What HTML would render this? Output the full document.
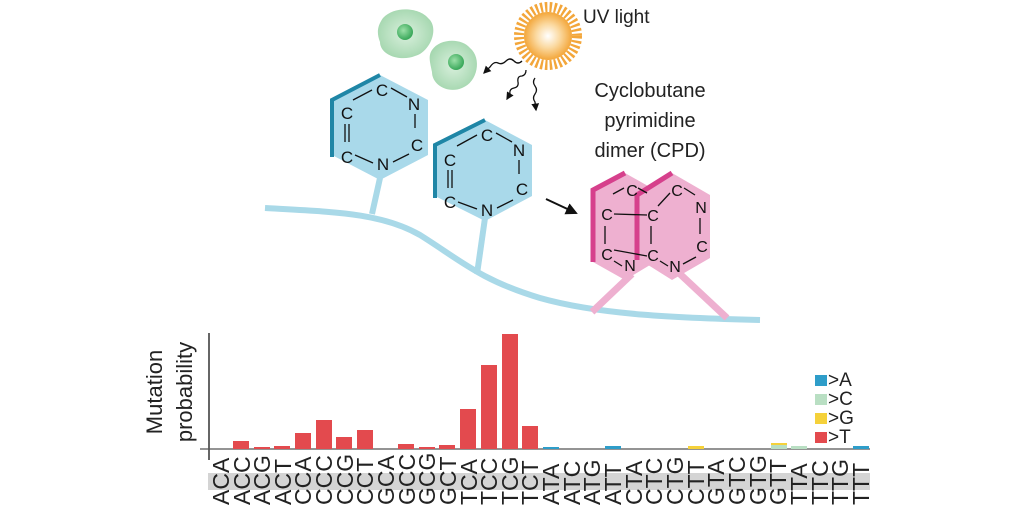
<!DOCTYPE html>
<html><head><meta charset="utf-8"><style>
html,body{margin:0;padding:0;background:#fff;}
svg{display:block;}
text{font-family:"Liberation Sans",sans-serif;}
</style></head><body>
<svg width="1024" height="512" viewBox="0 0 1024 512" xmlns="http://www.w3.org/2000/svg">
<defs>
<radialGradient id="sun" cx="50%" cy="50%" r="50%">
<stop offset="0" stop-color="#fff"/><stop offset="0.5" stop-color="#fbd9a0"/><stop offset="1" stop-color="#f3a63a"/>
</radialGradient>
<radialGradient id="cell" cx="50%" cy="50%" r="60%">
<stop offset="0" stop-color="#d9f0dd"/><stop offset="1" stop-color="#9fd4aa"/>
</radialGradient>
<radialGradient id="nuc" cx="40%" cy="40%" r="60%">
<stop offset="0" stop-color="#9be0a8"/><stop offset="1" stop-color="#3aa85a"/>
</radialGradient>
<marker id="ah" markerWidth="6" markerHeight="6" refX="5" refY="3" orient="auto"><path d="M0,0 L6,3 L0,6z" fill="#111"/></marker>
</defs>

<path d="M265,208 C330,212 380,212 420,235 C460,260 480,280 540,298 C600,315 680,318 760,320" fill="none" stroke="#a9d9e8" stroke-width="6"/>
<line x1="380" y1="178" x2="372" y2="214" stroke="#a9d9e8" stroke-width="6"/>
<line x1="485" y1="218" x2="477" y2="274" stroke="#a9d9e8" stroke-width="6"/>
<line x1="632" y1="274" x2="592" y2="312" stroke="#eeb0d0" stroke-width="7"/>
<line x1="680" y1="274" x2="727" y2="318" stroke="#eeb0d0" stroke-width="7"/>

<path d="M383,18 C395,5 420,8 428,18 C440,28 430,52 415,56 C400,62 380,55 380,42 C376,32 378,25 383,18z" fill="url(#cell)"/>
<circle cx="405" cy="32" r="8" fill="url(#nuc)"/>
<path d="M432,50 C440,38 462,38 470,48 C482,58 478,82 462,88 C448,94 432,85 432,72 C430,62 428,56 432,50z" fill="url(#cell)"/>
<circle cx="456" cy="62" r="8" fill="url(#nuc)"/>

<g transform="translate(548,36)">
<circle r="29" fill="none" stroke="#f3a63a" stroke-width="10" stroke-dasharray="2.4 2.2"/>
<circle r="24" fill="url(#sun)"/>
</g>
<text x="583" y="23" font-size="19" fill="#222">UV light</text>

<path d="M522,61 q-4,4 -8,0 q-4,-4 -8,0 q-4,4 -8,2 q-4,-2 -8,4 q-3,3 -6,6" fill="none" stroke="#111" stroke-width="1.3" marker-end="url(#ah)"/>
<path d="M526,70 q0,5 -4,6 q-5,0 -4,6 q1,5 -4,6 q-5,1 -4,6 l-3,5" fill="none" stroke="#111" stroke-width="1.3" marker-end="url(#ah)"/>
<path d="M535,78 q-3,4 0,8 q3,4 0,8 q-3,4 0,8 l1,8" fill="none" stroke="#111" stroke-width="1.3" marker-end="url(#ah)"/>

<polygon points="380,75 428,100 428,155 380,180 332,155 332,100" fill="#a9d9ea"/>
<polyline points="332,157 332,100 380,75" fill="none" stroke="#1f86a6" stroke-width="4"/>
<g font-size="17" fill="#111" text-anchor="middle">
<text x="382" y="96">C</text><text x="414" y="110">N</text><text x="417" y="151">C</text>
<text x="383" y="170">N</text><text x="347" y="163">C</text><text x="347" y="119">C</text>
</g>
<g stroke="#111" stroke-width="1.3">
<line x1="353" y1="100" x2="372" y2="90"/><line x1="391" y1="88" x2="407" y2="97"/>
<line x1="415" y1="114" x2="415" y2="128"/><line x1="393" y1="162" x2="409" y2="154"/>
<line x1="355" y1="155" x2="373" y2="163"/>
<line x1="345" y1="124" x2="345" y2="142"/><line x1="349" y1="124" x2="349" y2="142"/>
</g>

<polygon points="485,120 532,145 532,196 485,221 435,196 435,145" fill="#a9d9ea"/>
<polyline points="435,198 435,145 485,120" fill="none" stroke="#1f86a6" stroke-width="4"/>
<g font-size="17" fill="#111" text-anchor="middle">
<text x="487" y="141">C</text><text x="519" y="156">N</text><text x="522" y="195">C</text>
<text x="487" y="216">N</text><text x="450" y="208">C</text><text x="450" y="166">C</text>
</g>
<g stroke="#111" stroke-width="1.3">
<line x1="457" y1="146" x2="477" y2="135"/><line x1="496" y1="133" x2="512" y2="142"/>
<line x1="519" y1="160" x2="519" y2="174"/><line x1="497" y1="208" x2="513" y2="200"/>
<line x1="458" y1="202" x2="477" y2="209"/>
<line x1="448" y1="170" x2="448" y2="188"/><line x1="452" y1="170" x2="452" y2="188"/>
</g>

<line x1="546" y1="199" x2="576" y2="213" stroke="#111" stroke-width="2" marker-end="url(#ah)"/>

<g font-size="20" fill="#222" text-anchor="middle">
<text x="650" y="97">Cyclobutane</text>
<text x="650" y="127">pyrimidine</text>
<text x="650" y="157">dimer (CPD)</text>
</g>

<polygon points="625,173 655,190 655,262 625,280 593,262 593,190" fill="#eeb0d0"/>
<polyline points="593,262 593,190 625,173" fill="none" stroke="#d6408c" stroke-width="5"/>
<polygon points="672,173 710,195 710,258 672,280 637,258 637,195" fill="#eeb0d0"/>
<polyline points="637,260 637,195 672,173" fill="none" stroke="#d6408c" stroke-width="5"/>
<g font-size="16" fill="#111" text-anchor="middle">
<text x="632" y="196">C</text><text x="607" y="220">C</text><text x="607" y="260">C</text><text x="630" y="271">N</text>
<text x="677" y="196">C</text><text x="701" y="213">N</text><text x="702" y="252">C</text>
<text x="675" y="272">N</text><text x="653" y="221">C</text><text x="653" y="261">C</text>
</g>
<g stroke="#111" stroke-width="1.3">
<line x1="614" y1="214" x2="647" y2="215"/><line x1="614" y1="250" x2="647" y2="256"/>
<line x1="605" y1="226" x2="605" y2="244"/><line x1="651" y1="226" x2="651" y2="244"/>
<line x1="613" y1="194" x2="624" y2="188"/><line x1="638" y1="188" x2="647" y2="193"/>
<line x1="658" y1="206" x2="670" y2="193"/><line x1="684" y1="188" x2="695" y2="195"/>
<line x1="700" y1="218" x2="700" y2="234"/><line x1="683" y1="264" x2="696" y2="257"/>
<line x1="660" y1="261" x2="668" y2="266"/><line x1="614" y1="261" x2="622" y2="266"/>
</g>

<rect x="208" y="473" width="662" height="17" fill="#d4d4d4"/>
<line x1="209" y1="333" x2="209" y2="460" stroke="#333" stroke-width="1.5"/>
<line x1="200" y1="449" x2="870" y2="449" stroke="#555" stroke-width="1.3"/>
<g font-size="22" fill="#222" text-anchor="middle">
<text transform="translate(162,392) rotate(-90)">Mutation</text>
<text transform="translate(192,392) rotate(-90)">probability</text>
</g>
<g fill="#e34a4e">
<rect x="233" y="441" width="16" height="8"/>
<rect x="254" y="447" width="16" height="2"/>
<rect x="274" y="446" width="16" height="3"/>
<rect x="295" y="433" width="16" height="16"/>
<rect x="316" y="420" width="16" height="29"/>
<rect x="336" y="437" width="16" height="12"/>
<rect x="357" y="430" width="16" height="19"/>
<rect x="398" y="444" width="16" height="5"/>
<rect x="419" y="447" width="16" height="2"/>
<rect x="439" y="445" width="16" height="4"/>
<rect x="460" y="409" width="16" height="40"/>
<rect x="481" y="365" width="16" height="84"/>
<rect x="502" y="334" width="16" height="115"/>
<rect x="522" y="426" width="16" height="23"/>
</g>
<g>
<rect x="605" y="446" width="16" height="3" fill="#2e9dc9"/>
<rect x="688" y="446" width="16" height="3" fill="#f5d13a"/>
<rect x="771" y="444" width="16" height="5" fill="#b9dfc3"/>
<rect x="771" y="443" width="16" height="2" fill="#f5d13a"/>
<rect x="791" y="446" width="16" height="3" fill="#b9dfc3"/>
<rect x="853" y="446" width="16" height="3" fill="#2e9dc9"/>
<rect x="543" y="447" width="16" height="2" fill="#2e9dc9"/>
</g>
<rect x="815" y="375" width="12" height="11" fill="#2e9dc9"/>
<rect x="815" y="394" width="12" height="11" fill="#b9dfc3"/>
<rect x="815" y="413" width="12" height="11" fill="#f5d13a"/>
<rect x="815" y="432" width="12" height="11" fill="#e34a4e"/>
<g font-size="19" fill="#222">
<text x="828" y="386">&gt;A</text><text x="828" y="405">&gt;C</text>
<text x="828" y="424">&gt;G</text><text x="828" y="443">&gt;T</text>
</g>
<g font-size="23" fill="#222">
<text transform="translate(229,505) rotate(-90)">ACA</text>
<text transform="translate(250,505) rotate(-90)">ACC</text>
<text transform="translate(270,505) rotate(-90)">ACG</text>
<text transform="translate(291,505) rotate(-90)">ACT</text>
<text transform="translate(311,505) rotate(-90)">CCA</text>
<text transform="translate(332,505) rotate(-90)">CCC</text>
<text transform="translate(353,505) rotate(-90)">CCG</text>
<text transform="translate(373,505) rotate(-90)">CCT</text>
<text transform="translate(394,505) rotate(-90)">GCA</text>
<text transform="translate(415,505) rotate(-90)">GCC</text>
<text transform="translate(435,505) rotate(-90)">GCG</text>
<text transform="translate(456,505) rotate(-90)">GCT</text>
<text transform="translate(477,505) rotate(-90)">TCA</text>
<text transform="translate(497,505) rotate(-90)">TCC</text>
<text transform="translate(518,505) rotate(-90)">TCG</text>
<text transform="translate(538,505) rotate(-90)">TCT</text>
<text transform="translate(559,505) rotate(-90)">ATA</text>
<text transform="translate(580,505) rotate(-90)">ATC</text>
<text transform="translate(600,505) rotate(-90)">ATG</text>
<text transform="translate(621,505) rotate(-90)">ATT</text>
<text transform="translate(642,505) rotate(-90)">CTA</text>
<text transform="translate(662,505) rotate(-90)">CTC</text>
<text transform="translate(683,505) rotate(-90)">CTG</text>
<text transform="translate(704,505) rotate(-90)">CTT</text>
<text transform="translate(724,505) rotate(-90)">GTA</text>
<text transform="translate(745,505) rotate(-90)">GTC</text>
<text transform="translate(766,505) rotate(-90)">GTG</text>
<text transform="translate(786,505) rotate(-90)">GTT</text>
<text transform="translate(807,505) rotate(-90)">TTA</text>
<text transform="translate(828,505) rotate(-90)">TTC</text>
<text transform="translate(848,505) rotate(-90)">TTG</text>
<text transform="translate(869,505) rotate(-90)">TTT</text>
</g>
</svg>
</body></html>
